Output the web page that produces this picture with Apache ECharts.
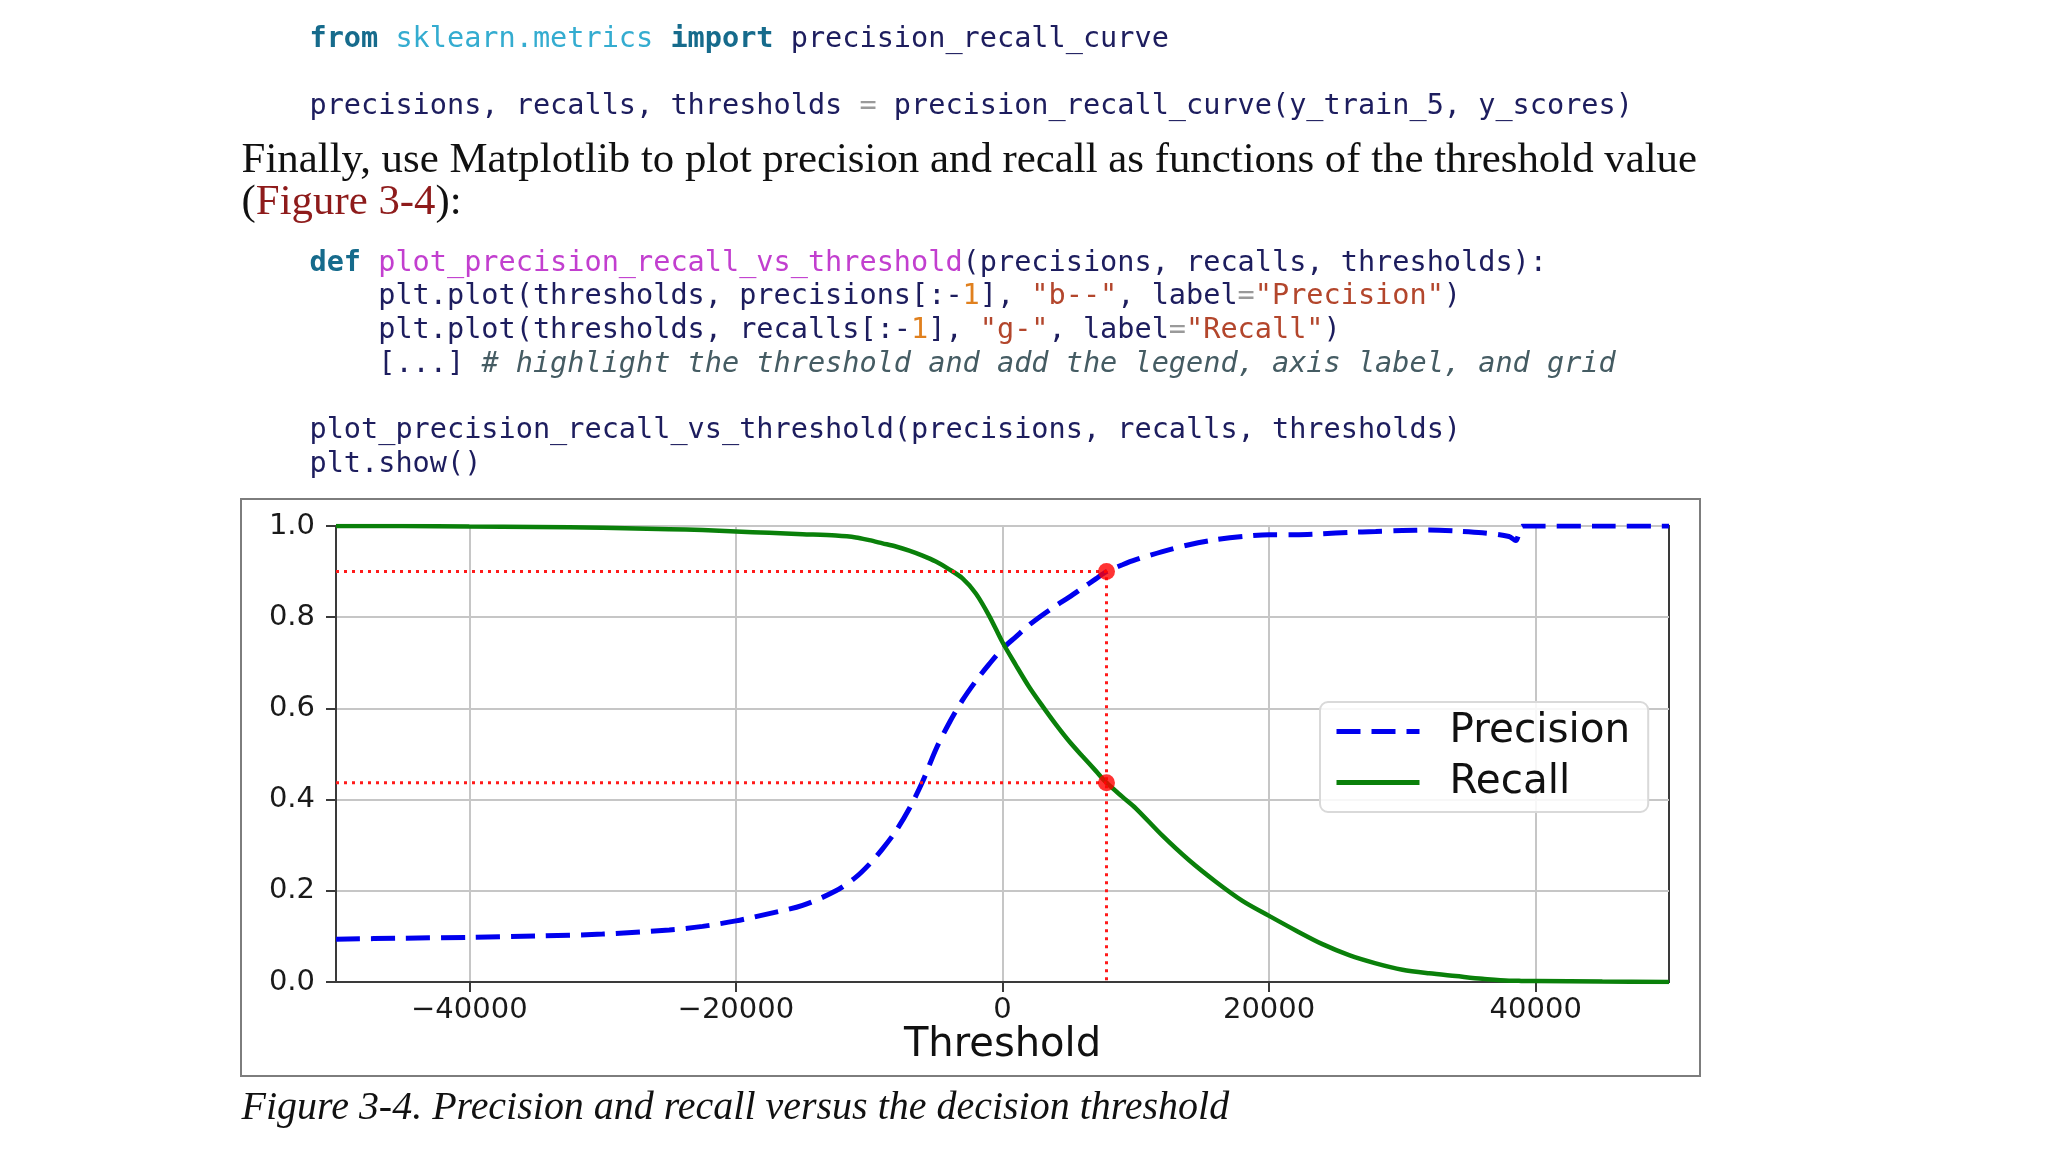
<!DOCTYPE html>
<html>
<head>
<meta charset="utf-8">
<script src="https://cdn.jsdelivr.net/npm/echarts@6/dist/echarts.min.js"></script>
<style>
  html, body { margin: 0; padding: 0; background: #fff; }
  #wrap { position: relative; width: 2048px; height: 1152px; overflow: hidden; background: #fff; }
  #chart { position: absolute; left: 0; top: 0; width: 2048px; height: 1152px; }
  .t { position: absolute; white-space: pre; }
  .code { font-family: "DejaVu Sans Mono", "Liberation Mono", monospace; color: #1d1d5e; }
  .kw { color: #166b8c; font-weight: bold; }
  .mod { color: #34acd0; }
  .op { color: #9a9a9a; }
  .fn { color: #c23fcf; }
  .str { color: #b3462c; }
  .num { color: #e0801e; }
  .cm { color: #455c63; font-style: italic; }
  .prose { font-family: "Liberation Serif", "DejaVu Serif", serif; color: #111; }
  .ref { color: #8e1b1b; }
</style>
</head>
<body>
<div id="wrap">
  <div id="chart"></div>
  <div class="t code" data-cy="37" data-x="309.5" data-fit="859.5"><span class="kw">from</span> <span class="mod">sklearn.metrics</span> <span class="kw">import</span> precision_recall_curve</div>
  <div class="t code" data-cy="104.5" data-x="309.5">precisions, recalls, thresholds <span class="op">=</span> precision_recall_curve(y_train_5, y_scores)</div>
  <div class="t prose" data-cy="158" data-x="241.6" data-fitp="1456">Finally, use Matplotlib to plot precision and recall as functions of the threshold value</div>
  <div class="t prose" data-cy="200" data-x="241.6">(<span class="ref">Figure 3-4</span>):</div>
  <div class="t code" data-cy="261" data-x="309.5"><span class="kw">def</span> <span class="fn">plot_precision_recall_vs_threshold</span>(precisions, recalls, thresholds):</div>
  <div class="t code" data-cy="294.5" data-x="309.5">    plt.plot(thresholds, precisions[:-<span class="num">1</span>], <span class="str">"b--"</span>, label<span class="op">=</span><span class="str">"Precision"</span>)</div>
  <div class="t code" data-cy="328" data-x="309.5">    plt.plot(thresholds, recalls[:-<span class="num">1</span>], <span class="str">"g-"</span>, label<span class="op">=</span><span class="str">"Recall"</span>)</div>
  <div class="t code" data-cy="362" data-x="309.5">    [...] <span class="cm"># highlight the threshold and add the legend, axis label, and grid</span></div>
  <div class="t code" data-cy="428.5" data-x="309.5">plot_precision_recall_vs_threshold(precisions, recalls, thresholds)</div>
  <div class="t code" data-cy="462" data-x="309.5">plt.show()</div>
  <div class="t prose" style="font-style:italic" data-cy="1106" data-x="241.6" data-fitc="988">Figure 3-4. Precision and recall versus the decision threshold</div>
</div>
<script>
// ---- data ----
const thresholds = [-50000, -45000, -40000, -35000, -30000, -25000, -22500, -20000, -17500, -15000,
  -12500, -11000, -10000, -9000, -8000, -7000, -6000, -5000, -4000, -3000, -2000, -1000, 0, 1000,
  2000, 3000, 4000, 5000, 6000, 7000, 7800, 9000, 10000, 12000, 14000, 16000, 18000, 20000, 22000,
  24000, 26000, 28000, 30000, 32000, 34000, 36000, 38000, 38500, 39000, 40000, 45000, 50000];
const precisions = [0.094, 0.096, 0.098, 0.101, 0.105, 0.114, 0.122, 0.134, 0.150, 0.168,
  0.200, 0.230, 0.258, 0.292, 0.331, 0.380, 0.439, 0.510, 0.568, 0.618, 0.660, 0.697, 0.731, 0.757,
  0.783, 0.805, 0.825, 0.844, 0.864, 0.884, 0.900, 0.915, 0.926, 0.944, 0.959, 0.970, 0.977, 0.981,
  0.981, 0.983, 0.986, 0.988, 0.990, 0.991, 0.989, 0.985, 0.977, 0.968, 1.000, 1.000, 1.000, 1.000];
const recalls = [1.000, 1.000, 0.999, 0.998, 0.996, 0.993, 0.991, 0.988, 0.985, 0.982,
  0.979, 0.975, 0.969, 0.962, 0.955, 0.946, 0.935, 0.922, 0.905, 0.885, 0.852, 0.803, 0.745, 0.695,
  0.647, 0.605, 0.565, 0.528, 0.495, 0.463, 0.437, 0.406, 0.381, 0.321, 0.267, 0.220, 0.178, 0.145,
  0.113, 0.083, 0.059, 0.041, 0.027, 0.019, 0.013, 0.007, 0.003, 0.003, 0.002, 0.002, 0.001, 0.000];
const xTicks = [-40000, -20000, 0, 20000, 40000];
const xRange = [-50000, 50000];
const threshold90 = 7800;
const precision90 = 0.9;
const recall90 = 0.437;

// ---- place the surrounding text ----
function fitFont(el, target, base) {
  el.style.fontSize = base + 'px';
  const w = el.getBoundingClientRect().width;
  return base * target / w;
}
const nodes = Array.from(document.querySelectorAll('.t'));
let codeSize = 28.6, proseSize = 37, capSize = 36;
nodes.forEach(el => { el.style.left = el.dataset.x + 'px'; });
nodes.forEach(el => {
  if (el.dataset.fit) codeSize = fitFont(el, +el.dataset.fit, 40);
  if (el.dataset.fitp) proseSize = fitFont(el, +el.dataset.fitp, 40);
  if (el.dataset.fitc) capSize = fitFont(el, +el.dataset.fitc, 40);
});
nodes.forEach(el => {
  let fs = el.classList.contains('code') ? codeSize : proseSize;
  if (el.dataset.fitc) fs = capSize;
  const lh = Math.round(fs * 1.3);
  el.style.fontSize = fs + 'px';
  el.style.lineHeight = lh + 'px';
  el.style.height = lh + 'px';
  el.style.top = (+el.dataset.cy - lh / 2) + 'px';
});

// ---- chart ----
const chart = echarts.init(document.getElementById('chart'), null, { renderer: 'canvas' });
const fontFam = '"DejaVu Sans", sans-serif';
const spine = '#3a3a3a';
chart.setOption({
  animation: false,
  textStyle: { fontFamily: fontFam },
  graphic: [{
    type: 'rect', silent: true, z: -10,
    shape: { x: 241, y: 499, width: 1459, height: 577 },
    style: { fill: 'none', stroke: '#7d7d7d', lineWidth: 2 }
  }],
  grid: { left: 336, top: 526, width: 1333, height: 456, show: true,
          borderColor: spine, borderWidth: 2, backgroundColor: 'transparent' },
  legend: {
    data: ['Precision', 'Recall'],
    orient: 'vertical', left: 1320, top: 702,
    itemWidth: 83, itemHeight: 14, itemGap: 10,
    padding: [9, 18, 9, 14],
    backgroundColor: 'rgba(255,255,255,0.85)',
    borderColor: '#d9d9d9', borderWidth: 2, borderRadius: 8,
    itemStyle: { opacity: 0, borderWidth: 0 },
    lineStyle: { width: 5 },
    textStyle: { fontSize: 40.5, color: '#111', fontFamily: fontFam, padding: [0, 0, 0, 25], lineHeight: 40 }
  },
  xAxis: {
    type: 'value', min: xRange[0], max: xRange[1],
    name: 'Threshold', nameLocation: 'middle', nameGap: 44,
    nameTextStyle: { fontSize: 40, color: '#111', fontFamily: fontFam },
    axisLine: { show: true, onZero: false, lineStyle: { color: spine, width: 2 } },
    axisTick: { show: true, length: 10, customValues: xTicks, lineStyle: { color: spine, width: 2 } },
    axisLabel: { customValues: xTicks, fontSize: 29, color: '#1a1a1a', margin: 14, fontFamily: fontFam,
      formatter: v => (v < 0 ? '\u2212' + Math.abs(v) : String(v)) },
    splitLine: { show: true, lineStyle: { color: '#c6c6c6', width: 2 } }
  },
  yAxis: {
    type: 'value', min: 0, max: 1, interval: 0.2,
    axisLine: { show: true, onZero: false, lineStyle: { color: spine, width: 2 } },
    axisTick: { show: true, length: 10, lineStyle: { color: spine, width: 2 } },
    axisLabel: { fontSize: 29, color: '#1a1a1a', margin: 21, fontFamily: fontFam,
      formatter: v => v.toFixed(1) },
    splitLine: { show: true, lineStyle: { color: '#c6c6c6', width: 2 } }
  },
  series: [
    {
      name: 'Precision', type: 'line', symbol: 'none', z: 3, smooth: 0.3,
      data: thresholds.map((t, i) => [t, precisions[i]]),
      lineStyle: { color: '#0000ee', width: 5, type: [24, 11] },
      itemStyle: { color: '#0000ee' }
    },
    {
      name: 'Recall', type: 'line', symbol: 'none', z: 3, smooth: 0.3,
      data: thresholds.map((t, i) => [t, recalls[i]]),
      lineStyle: { color: '#0a800a', width: 4.5 },
      itemStyle: { color: '#0a800a' }
    },
    {
      name: 'guide90', type: 'line', symbol: 'none', silent: true, z: 4,
      data: [[xRange[0], precision90], [threshold90, precision90], [threshold90, 0]],
      lineStyle: { color: '#ff1a1a', width: 3, type: [3, 5] }
    },
    {
      name: 'guideRecall', type: 'line', symbol: 'none', silent: true, z: 4,
      data: [[xRange[0], recall90], [threshold90, recall90]],
      lineStyle: { color: '#ff1a1a', width: 3, type: [3, 5] }
    },
    {
      name: 'points', type: 'scatter', symbolSize: 17, silent: true, z: 5,
      data: [[threshold90, precision90], [threshold90, recall90]],
      itemStyle: { color: '#ff0000' }
    }
  ]
});
</script>
</body>
</html>
